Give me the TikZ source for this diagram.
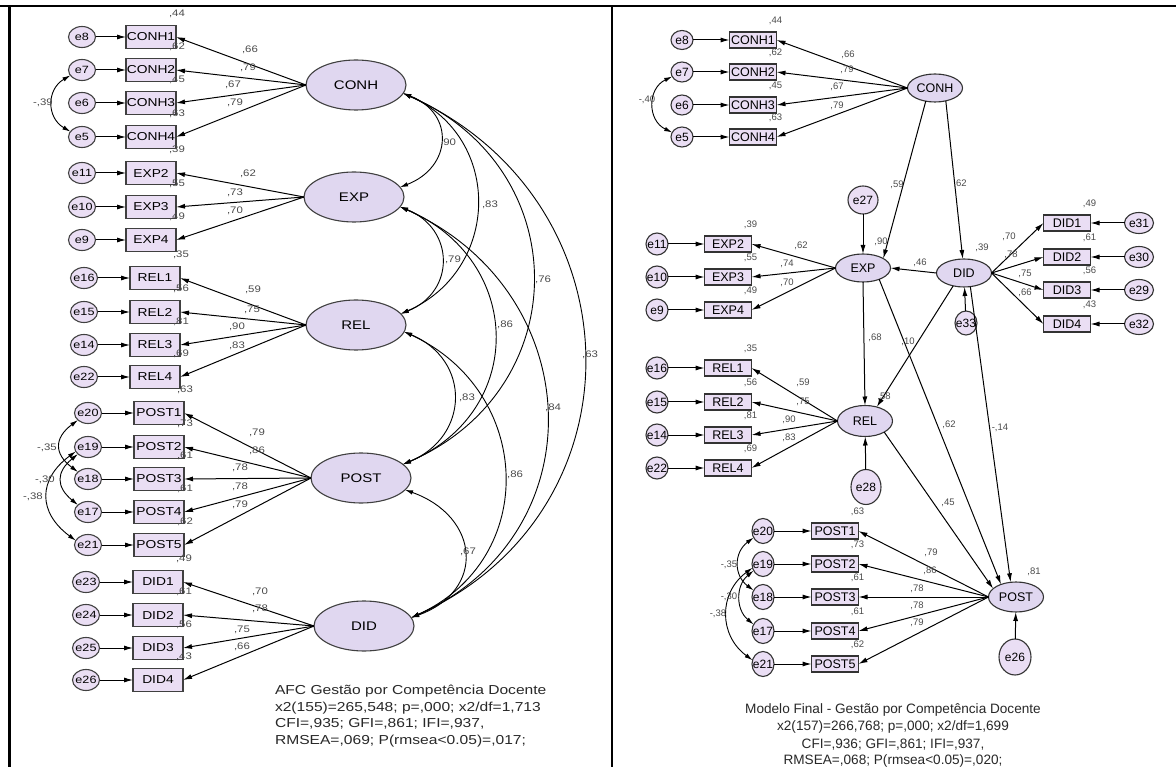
\documentclass[tikz,border=0pt]{standalone}
\usepackage{fontspec}
\setmainfont{Liberation Sans}
\newfontfamily\lfont[FakeStretch=1.2]{Liberation Sans}
\usetikzlibrary{arrows.meta,shapes.geometric}
\definecolor{boxfill}{RGB}{234,222,244}
\definecolor{ellfill}{RGB}{224,215,240}
\definecolor{labgray}{RGB}{75,75,75}
\definecolor{txtgray}{RGB}{40,40,40}
\newcommand{\fs}[1]{\fontsize{#1}{#1}\selectfont}
\begin{document}
\begin{tikzpicture}[x=1pt,y=-1pt,
  every node/.style={inner sep=0pt,outer sep=0pt},
  arr/.style={-{Latex[length=9pt,width=5pt]},line width=1pt},
  cov/.style={{Latex[length=8pt,width=4.5pt]}-{Latex[length=8pt,width=4.5pt]},line width=0.9pt},
  lobs/.style={draw=black!75,line width=1.1pt,fill=boxfill,minimum width=50pt,minimum height=23pt,font=\lfont\fs{11.5}},
  lerr/.style={ellipse,draw=black!75,line width=1.1pt,fill=boxfill,minimum width=27pt,minimum height=21pt,font=\lfont\fs{10.5}},
  lfac/.style={ellipse,draw=black!75,line width=1.1pt,fill=ellfill,minimum width=100pt,minimum height=50pt,font=\lfont\fs{12.5}},
  llab/.style={font=\lfont\fs{9.5},text=labgray},
  robs/.style={draw=black!80,line width=1.1pt,fill=boxfill,minimum width=47pt,minimum height=16pt,font=\fs{12.5}},
  rerr/.style={ellipse,draw=black!80,line width=1.1pt,fill=boxfill,minimum width=22pt,minimum height=21pt,font=\fs{12}},
  rfac/.style={ellipse,draw=black!80,line width=1.1pt,fill=ellfill,minimum width=55pt,minimum height=28pt,font=\fs{12.5}},
  rlab/.style={font=\fs{9.5},text=labgray},
  ltxt/.style={font=\lfont\fs{13},text=txtgray,anchor=base west},
  rtxt/.style={font=\fs{13.6},text=txtgray,anchor=base},
]
\useasboundingbox (0,0) rectangle (1176,767);
\fill[white] (0,0) rectangle (1176,767);
\draw[line width=2pt] (0,6.5) -- (1176,6.5);
\draw[line width=2.5pt] (9.5,6.5) -- (9.5,767);
\draw[line width=2pt] (612,6.5) -- (612,767);

% ================= LEFT PANEL =================
\foreach \e/\b/\y/\ex/\bx/\r in {e8/CONH1/37/82/151/44, e7/CONH2/70/82/151/62, e6/CONH3/103/82/151/45, e5/CONH4/137/82/151/63,
 e11/EXP2/173/82/151/39, e10/EXP3/207/82/151/55, e9/EXP4/240/82/151/49,
 e16/REL1/278/84/155/35, e15/REL2/312/84/155/56, e14/REL3/345/84/155/81, e22/REL4/377/84/155/69,
 e20/POST1/413/88/159/63, e19/POST2/447/88/159/73, e18/POST3/479/88/159/61, e17/POST4/512/88/159/61, e21/POST5/545/88/159/62,
 e23/DID1/582/86/158/49, e24/DID2/615/86/158/61, e25/DID3/648/86/158/56, e26/DID4/680/86/158/43}
{
 \node[llab] (Lr\b) at ([xshift=1pt,yshift=12pt]\bx+25,\y-11.5) {,\r};
 \node[lobs] (L\b) at (\bx,\y) {\b};
 \node[lerr] (L\e) at (\ex,\y) {\makebox[0pt]{\e}};
 \draw[arr] (L\e) -- (L\b);
}
\node[lfac] (LCONH) at (356,85) {CONH};
\node[lfac] (LEXP) at (354,197) {EXP};
\node[lfac] (LREL) at (356,325) {REL};
\node[lfac] (LPOST) at (361,478) {POST};
\node[lfac] (LDID) at (364,626) {DID};
\foreach \f/\b in {CONH/CONH1,CONH/CONH2,CONH/CONH3,CONH/CONH4,EXP/EXP2,EXP/EXP3,EXP/EXP4,
 REL/REL1,REL/REL2,REL/REL3,REL/REL4,POST/POST1,POST/POST2,POST/POST3,POST/POST4,POST/POST5,
 DID/DID1,DID/DID2,DID/DID3,DID/DID4}
 \draw[arr] (L\f.west) -- (L\b.east);
\foreach \x/\y/\t [count=\i] in {250/50/66, 248/68/79, 233/85/67, 235/103/79, 248/174/62, 235/193/73, 235/211/70,
 253/290/59, 252/310/75, 237/327/90, 237/346/83, 257/433/79, 257/451/86, 240/468/78, 240/487/78, 240/505/79,
 260/592/70, 260/609/78, 242/630/75, 242/647/66}
 \node[llab] (Ll\i) at (\x,\y) {,\t};
% factor covariances
\draw[cov] (LCONH.-10) .. controls +(52,20) and +(52,-20) .. (LEXP.12);
\draw[cov] (LCONH.-10) .. controls +(100,44) and +(100,-44) .. (LREL.14);
\draw[cov] (LCONH.-10) .. controls +(173,75) and +(173,-75) .. (LPOST.18);
\draw[cov] (LCONH.-10) .. controls +(236,106) and +(236,-106) .. (LDID.10);
\draw[cov] (LEXP.-12) .. controls +(55,22) and +(55,-22) .. (LREL.14);
\draw[cov] (LEXP.-12) .. controls +(124,53) and +(124,-53) .. (LPOST.18);
\draw[cov] (LEXP.-12) .. controls +(188,84) and +(188,-84) .. (LDID.10);
\draw[cov] (LREL.-8) .. controls +(67,28) and +(67,-28) .. (LPOST.18);
\draw[cov] (LREL.-8) .. controls +(129,59) and +(129,-59) .. (LDID.10);
\draw[cov] (LPOST.-15) .. controls +(75,27) and +(75,-27) .. (LDID.10);
\foreach \x/\y/\t [count=\i] in {448/143/90, 490/205/83, 453/260/79, 543/280/76, 505/325/86, 590/355/63,
 467/398/83, 553/408/84, 515/475/86, 468/552/67}
 \node[llab] (Lc\i) at (\x,\y) {,\t};
% error covariances
\draw[cov] (Le7.205) .. controls +(-24,14) and +(-24,-14) .. (Le5.155);
\draw[cov] (Le20.215) .. controls +(-24,18) and +(-24,-18) .. (Le18.145);
\draw[cov] (Le19.215) .. controls +(-22,18) and +(-22,-18) .. (Le17.145);
\draw[cov] (Le19.200) .. controls +(-38,28) and +(-38,-28) .. (Le21.160);
\foreach \x/\y/\t [count=\i] in {43/103/39, 47/448/35, 45/480/30, 33/497/38}
 \node[llab] (Le\i) at (\x,\y) {-,\t};
\foreach \y/\t [count=\i] in {694.7/{AFC Gestão por Competência Docente}, 711.7/{x2(155)=265,548; p=,000; x2/df=1,713},
 727.7/{CFI=,935; GFI=,861; IFI=,937,}, 744.7/{RMSEA=,069; P(rmsea<0.05)=,017;}}
 \node[ltxt] (Lt\i) at (275,\y) {\t};

% ================= RIGHT PANEL =================
\foreach \e/\b/\y/\ex/\bx/\r/\h in {e8/CONH1/40/682/753/44/19, e7/CONH2/72/682/753/62/20, e6/CONH3/105/682/753/45/20, e5/CONH4/137/682/753/63/20,
 e11/EXP2/244/657/728/39/22, e10/EXP3/277/657/728/55/22, e9/EXP4/310/657/728/49/22,
 e16/REL1/368/657/728/35/22, e15/REL2/402/657/728/56/22, e14/REL3/435/657/728/81/22, e22/REL4/468/657/728/69/22,
 e20/POST1/531/763/835/63/25, e19/POST2/564/763/835/73/25, e18/POST3/597/763/835/61/25, e17/POST4/631/763/835/61/25, e21/POST5/664/763/835/62/25}
{
 \node[robs] (R\b) at (\bx,\y) {\b};
 \node[rlab] (Rr\b) at ([xshift=-1pt,yshift=11pt]R\b.north east) {,\r};
 \node[rerr,minimum height=\h pt] (R\e) at (\ex,\y) {\makebox[0pt]{\e}};
 \draw[arr] (R\e) -- (R\b);
}
\foreach \e/\b/\y/\r in {e31/DID1/223/49, e30/DID2/257/61, e29/DID3/290/56, e32/DID4/324/43}
{
 \node[robs] (R\b) at (1067,\y) {\b};
 \node[rlab] (Rr\b) at ([xshift=-1pt,yshift=11pt]R\b.north east) {,\r};
 \node[rerr,minimum width=29pt] (R\e) at (1139,\y) {\makebox[0pt]{\e}};
 \draw[arr] (R\e) -- (R\b);
}
\node[rfac] (RCONH) at (935,88) {CONH};
\node[rfac] (REXP) at (863,268) {EXP};
\node[rfac] (RDID) at (964,273) {DID};
\node[rfac,minimum height=31pt] (RREL) at (865,421) {REL};
\node[rfac,minimum height=30pt] (RPOST) at (1016,597) {POST};
\node[rerr,minimum width=30pt,minimum height=28pt] (Re27) at (863,200) {\makebox[0pt]{e27}};
\node[rerr,minimum width=30pt,minimum height=35pt] (Re28) at (866,487) {\makebox[0pt]{e28}};
\node[rerr,minimum width=32pt,minimum height=36pt] (Re26) at (1015,657) {\makebox[0pt]{e26}};
\node[rerr,minimum width=22pt,minimum height=24pt] (Re33) at (966,323) {\makebox[0pt]{e33}};
\foreach \f/\b in {CONH/CONH1,CONH/CONH2,CONH/CONH3,CONH/CONH4,EXP/EXP2,EXP/EXP3,EXP/EXP4,
 REL/REL1,REL/REL2,REL/REL3,REL/REL4,POST/POST1,POST/POST2,POST/POST3,POST/POST4,POST/POST5}
 \draw[arr] (R\f.west) -- (R\b.east);
\foreach \b in {DID1,DID2,DID3,DID4}
 \draw[arr] (RDID.east) -- (R\b.west);
\draw[arr] (RCONH.235) -- (REXP.25);
\draw[arr] (RCONH.-50) -- (RDID.95);
\draw[arr] (Re27) -- (REXP);
\draw[arr] (RDID.west) -- (REXP.east);
\draw[arr] (Re33) -- (RDID);
\draw[arr] (REXP.south) -- (RREL.north);
\draw[arr] (REXP.-35) -- (RPOST.140);
\draw[arr] (RDID.-130) -- (RREL.50);
\draw[arr] (RDID.-65) -- (RPOST.110);
\draw[arr] (RREL.-30) -- (RPOST.160);
\draw[arr] (Re28) -- (RREL);
\draw[arr] (Re26) -- (RPOST);
\draw[cov] (Re7.205) .. controls +(-25,12) and +(-25,-12) .. (Re5.155);
\draw[cov] (Re20.215) .. controls +(-20,15) and +(-20,-15) .. (Re18.145);
\draw[cov] (Re19.215) .. controls +(-18,15) and +(-18,-15) .. (Re17.145);
\draw[cov] (Re19.200) .. controls +(-34,25) and +(-34,-25) .. (Re21.160);
\foreach \x/\y/\t [count=\i] in {848/55/66, 847/70/79, 837/87/67, 837/106/79, 897/185/59, 960/184/62,
 801/246/62, 787/264/74, 787/283/70, 881/242/90, 920/263/46, 982/248/39,
 1009/237/70, 1011/255/78, 1025/274/75, 1025/293/66, 875/338/68, 908/342/10, 884/397/58, 949/425/62,
 803/383/59, 803/402/75, 789/420/90, 789/438/83, 948/503/45,
 931/553/79, 930/571/86, 917/589/78, 917/606/78, 917/623/79, 1034/572/81}
 \node[rlab] (Rl\i) at (\x,\y) {,\t};
\foreach \x/\y/\t [count=\i] in {1000/428/14, 647/100/40, 729/565/35, 729/597/30, 718/614/38}
 \node[rlab] (Rn\i) at (\x,\y) {-,\t};
\foreach \y/\t [count=\i] in {713/{Modelo Final - Gestão por Competência Docente}, 730/{x2(157)=266,768; p=,000; x2/df=1,699},
 748/{CFI=,936; GFI=,861; IFI=,937,}, 764/{RMSEA=,068; P(rmsea<0.05)=,020;}}
 \node[rtxt] (Rt\i) at (893,\y) {\t};
\end{tikzpicture}
\end{document}
